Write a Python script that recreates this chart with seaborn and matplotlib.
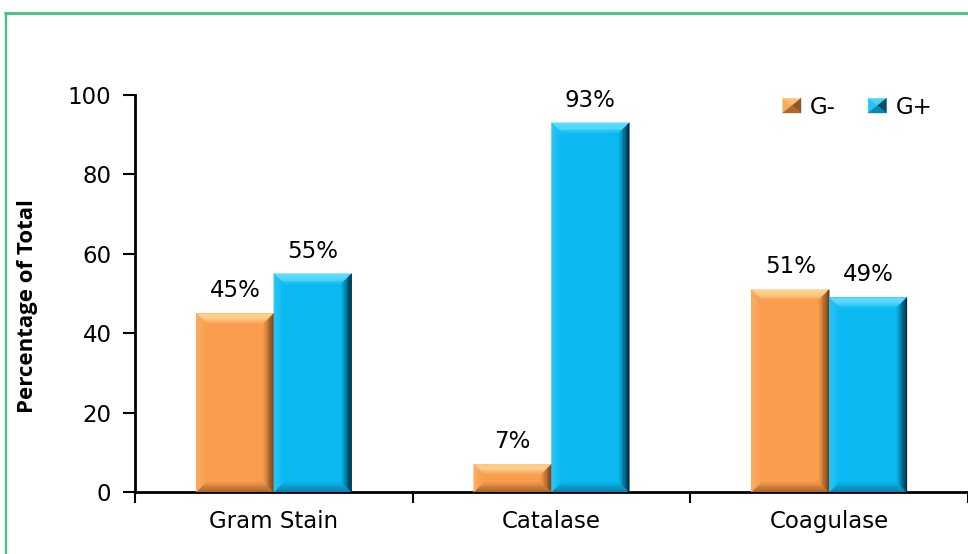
import numpy as np
import pandas as pd
import seaborn as sns
import matplotlib
matplotlib.use("Agg")
import matplotlib.pyplot as plt
from matplotlib.patches import Polygon, Patch
from matplotlib.lines import Line2D
from matplotlib.legend_handler import HandlerPatch
from matplotlib.colors import to_rgb, to_hex

# ---- data ----
tests = ["Gram Stain", "Catalase", "Coagulase"]
groups = ["G-", "G+"]
g_neg = [45, 7, 51]
g_pos = [55, 93, 49]
y_ticks = [0, 20, 40, 60, 80, 100]

palette = {"G-": "#F99D4D", "G+": "#0BB9F1"}
# bevel colours per group: top, left, right, bottom
bevel = {
    "G-": ("#FFD08E", "#FCAF66", "#6E3E16", "#A8612A"),
    "G+": ("#5EDCFF", "#2CC6F6", "#002A3A", "#0A7FA8"),
}

df = pd.DataFrame({
    "Test": tests * 2,
    "Group": [groups[0]] * len(tests) + [groups[1]] * len(tests),
    "Value": g_neg + g_pos,
})

sns.set_theme(style="white")
plt.rcParams["font.family"] = ["DejaVu Sans"]
plt.rcParams["text.color"] = "black"
plt.rcParams["axes.labelcolor"] = "black"
plt.rcParams["xtick.labelcolor"] = "black"
plt.rcParams["ytick.labelcolor"] = "black"
FS = 16.5

fig = plt.figure(figsize=(9.68, 5.54), dpi=100)
ax = fig.add_axes([0.1395, 0.1119, 0.8605, 0.7166])

sns.barplot(data=df, x="Test", y="Value", hue="Group", order=tests,
            hue_order=groups, palette=palette, width=0.56, saturation=1,
            edgecolor="none", linewidth=0, legend=False, ax=ax)

ax.set_xlim(-0.5, 2.5)
ax.set_ylim(0, 100)
ax.set_yticks(y_ticks)
ax.set_xlabel("")
ax.set_ylabel("Percentage of Total", fontsize=16, fontweight="bold",
              family=["Open Sans", "DejaVu Sans"], color="black")
ax.yaxis.set_label_coords(-0.117, 0.468)
ax.tick_params(axis="y", which="major", direction="out", length=9, width=1.5,
               labelsize=FS, pad=8, color="black", left=True)
ax.tick_params(axis="x", which="major", length=0, labelsize=FS, pad=13)
ax.set_xticks([-0.5, 0.5, 1.5, 2.5], minor=True)
ax.tick_params(axis="x", which="minor", direction="out", length=8, width=1.5,
               color="black", bottom=True)
for side in ("top", "right"):
    ax.spines[side].set_visible(False)
for side in ("left", "bottom"):
    ax.spines[side].set_color("black")
    ax.spines[side].set_linewidth(2)

# ---- bevelled bars ----
fig.canvas.draw()
inv = ax.transData.inverted()


def mix(c1, c2, t):
    a, b = np.array(to_rgb(c1)), np.array(to_rgb(c2))
    return tuple(a * (1 - t) + b * t)


def draw_bevel(x0, y0, x1, y1, face, cols, b=10, n=8):
    top, left, right, bottom = cols
    for i in range(n):
        o, inn = b * i / n, b * (i + 1) / n
        t = i / n
        ox0, oy0, ox1, oy1 = x0 + o, y0 + o, x1 - o, y1 - o
        ix0, iy0, ix1, iy1 = x0 + inn, y0 + inn, x1 - inn, y1 - inn
        sides = {
            "top": ([(ox0, oy1), (ox1, oy1), (ix1, iy1), (ix0, iy1)], top),
            "bottom": ([(ox0, oy0), (ox1, oy0), (ix1, iy0), (ix0, iy0)], bottom),
            "left": ([(ox0, oy0), (ox0, oy1), (ix0, iy1), (ix0, iy0)], left),
            "right": ([(ox1, oy0), (ox1, oy1), (ix1, iy1), (ix1, iy0)], right),
        }
        for key, (pts, col) in sides.items():
            if key == "top":
                tt = (t - 0.45) / 0.55 if t > 0.45 else 0.0
                c = mix(col, face, tt)
            else:
                c = mix(col, face, t)
            ax.add_patch(Polygon(inv.transform(pts), closed=True, facecolor=c,
                                 edgecolor=c, linewidth=0.3, zorder=3))


for p in list(ax.patches):
    h = p.get_height()
    x, w = p.get_x(), p.get_width()
    face = to_hex(p.get_facecolor())
    grp = "G-" if face.lower() == palette["G-"].lower() else "G+"
    (dx0, dy0), (dx1, dy1) = ax.transData.transform([(x, 0), (x + w, h)])
    bsize = min(10, (dy1 - dy0) / 2.2)
    draw_bevel(dx0, dy0, dx1, dy1, face, bevel[grp], b=bsize)
    ax.annotate(f"{int(round(h))}%", (x + w / 2, h), xytext=(0, 8),
                textcoords="offset points", ha="center", va="bottom",
                fontsize=FS, color="black")


# ---- legend with pyramid-style keys ----
class PyramidHandler(HandlerPatch):
    def create_artists(self, legend, orig_handle, xdescent, ydescent,
                       width, height, fontsize, trans):
        grp = orig_handle.get_label()
        face = palette[grp]
        top, left, right, bottom = bevel[grp]
        x0, y0 = -xdescent, -ydescent
        x1, y1 = x0 + width, y0 + height
        c = ((x0 + x1) / 2, (y0 + y1) / 2)
        tris = [
            ([(x0, y1), (x1, y1), c], mix(top, face, 0.3)),
            ([(x0, y0), (x0, y1), c], mix(left, face, 0.2)),
            ([(x1, y0), (x1, y1), c], mix(right, face, 0.25)),
            ([(x0, y0), (x1, y0), c], mix(bottom, face, 0.1)),
        ]
        return [Polygon(pts, closed=True, facecolor=col, edgecolor=col,
                        linewidth=0.3, transform=trans) for pts, col in tris]


handles = [Patch(label=g) for g in groups]
ax.legend(handles=handles, labels=groups, loc="upper right",
          bbox_to_anchor=(0.982, 1.05), ncol=2, frameon=False, fontsize=FS,
          handlelength=0.8, handleheight=0.6, handletextpad=0.4,
          columnspacing=1.4,
          handler_map={Patch: PyramidHandler()})

# ---- green frame (top and left edges) ----
green = "#3DC47C"
fig.add_artist(Line2D([0.0055, 1.0], [0.977, 0.977], color=green, lw=2,
                      transform=fig.transFigure))
fig.add_artist(Line2D([0.0065, 0.0065], [0.0, 0.977], color=green, lw=1.6,
                      transform=fig.transFigure))

fig.savefig("out.png", dpi=100)
